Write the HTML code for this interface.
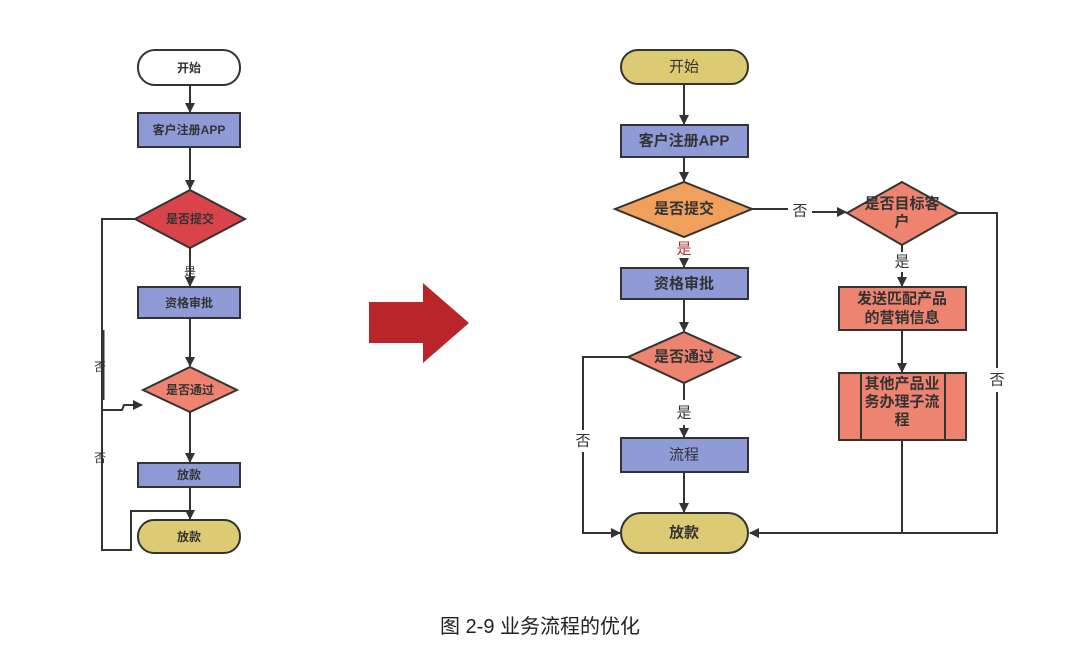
<!DOCTYPE html>
<html><head><meta charset="utf-8"><style>
html,body{margin:0;padding:0;background:#fff;width:1080px;height:664px;overflow:hidden}
svg{display:block}
text{font-family:"Liberation Sans","Noto Sans CJK SC",sans-serif;text-anchor:middle;dominant-baseline:central}
</style></head><body>
<svg width="1080" height="664" viewBox="0 0 1080 664">
<defs><marker id="a" markerWidth="10" markerHeight="10" refX="9" refY="5" orient="auto" markerUnits="userSpaceOnUse"><path d="M0,0 L10,5 L0,10 z" fill="#333"/></marker></defs>
<g stroke="#333" stroke-width="2" fill="none">
<!-- left -->
<line x1="190" y1="85" x2="190" y2="112" marker-end="url(#a)"/>
<line x1="190" y1="147" x2="190" y2="189" marker-end="url(#a)"/>
<line x1="190" y1="248" x2="190" y2="286" marker-end="url(#a)"/>
<line x1="190" y1="318" x2="190" y2="366" marker-end="url(#a)"/>
<line x1="190" y1="412" x2="190" y2="462" marker-end="url(#a)"/>
<line x1="190" y1="487" x2="190" y2="519" marker-end="url(#a)"/>
<polyline points="135,219 102,219 102,550 131,550 131,511 190,511"/>
<polyline points="102,410 122,410 124,405 142,405" marker-end="url(#a)"/>
<line x1="103" y1="330" x2="103" y2="400" stroke-width="3"/>
<!-- right -->
<line x1="684" y1="84" x2="684" y2="124" marker-end="url(#a)"/>
<line x1="684" y1="157" x2="684" y2="181" marker-end="url(#a)"/>
<line x1="684" y1="258" x2="684" y2="267" marker-end="url(#a)"/>
<line x1="684" y1="299" x2="684" y2="331" marker-end="url(#a)"/>
<line x1="684" y1="383" x2="684" y2="400"/>
<line x1="684" y1="425" x2="684" y2="437" marker-end="url(#a)"/>
<line x1="684" y1="472" x2="684" y2="512" marker-end="url(#a)"/>
<line x1="752" y1="209" x2="788" y2="209"/>
<line x1="812" y1="212" x2="846" y2="212" marker-end="url(#a)"/>
<line x1="902" y1="245" x2="902" y2="252"/>
<line x1="902" y1="272" x2="902" y2="286" marker-end="url(#a)"/>
<line x1="902" y1="330" x2="902" y2="372" marker-end="url(#a)"/>
<polyline points="628,357 583,357 583,430"/>
<polyline points="583,452 583,533 620,533" marker-end="url(#a)"/>
<polyline points="958,213 997,213 997,368"/>
<polyline points="997,392 997,533 750,533" marker-end="url(#a)"/>
<line x1="902" y1="440" x2="902" y2="533"/>
</g>
<g stroke="#333" stroke-width="2">
<rect x="138" y="50" width="102" height="35" rx="17" fill="#fff"/>
<rect x="138" y="113" width="102" height="34" fill="#8f9bd6"/>
<polygon points="135,219 190,190 245,219 190,248" fill="#d9444a"/>
<rect x="138" y="287" width="102" height="31" fill="#8f9bd6"/>
<polygon points="143,390 190,367 237,390 190,412" fill="#ee8470"/>
<rect x="138" y="463" width="102" height="24" fill="#8f9bd6"/>
<rect x="138" y="520" width="102" height="33" rx="16" fill="#dccb72"/>
<rect x="621" y="50" width="127" height="34" rx="17" fill="#dccb72"/>
<rect x="621" y="125" width="127" height="32" fill="#8f9bd6"/>
<polygon points="615,209 684,182 752,209 684,237" fill="#f0a05a"/>
<rect x="621" y="268" width="127" height="31" fill="#8f9bd6"/>
<polygon points="628,357 684,332 740,357 684,383" fill="#ee8470"/>
<rect x="621" y="438" width="127" height="34" fill="#8f9bd6"/>
<rect x="621" y="513" width="127" height="40" rx="20" fill="#dccb72"/>
<polygon points="847,213 902,182 958,213 902,245" fill="#ee8470"/>
<rect x="839" y="287" width="127" height="43" fill="#ee8470"/>
<rect x="839" y="373" width="127" height="67" fill="#ee8470"/>
<line x1="861" y1="373" x2="861" y2="440"/>
<line x1="945" y1="373" x2="945" y2="440"/>
</g>
<polygon points="369,302 423,302 423,283 469,323 423,363 423,343 369,343" fill="#b8262c"/>
<g font-size="12" font-weight="bold" fill="#333">
<text x="189" y="68">开始</text>
<text x="189" y="130">客户注册APP</text>
<text x="190" y="219">是否提交</text>
<text x="189" y="303">资格审批</text>
<text x="190" y="390">是否通过</text>
<text x="189" y="475">放款</text>
<text x="189" y="537">放款</text>
</g>
<g font-size="12" fill="#333">
<text x="190" y="272">是</text>
<text x="100" y="367">否</text>
<text x="100" y="458">否</text>
</g>
<g font-size="15" fill="#333">
<text x="684" y="67">开始</text>
<text x="684" y="141" font-weight="bold">客户注册APP</text>
<text x="684" y="209" font-weight="bold">是否提交</text>
<text x="684" y="249" fill="#b03030">是</text>
<text x="684" y="284" font-weight="bold">资格审批</text>
<text x="684" y="357" font-weight="bold">是否通过</text>
<text x="684" y="413">是</text>
<text x="684" y="455">流程</text>
<text x="684" y="533" font-weight="bold">放款</text>
<text x="800" y="211">否</text>
<text x="902" y="204" font-weight="bold">是否目标客</text>
<text x="902" y="222" font-weight="bold">户</text>
<text x="902" y="262">是</text>
<text x="902" y="299" font-weight="bold">发送匹配产品</text>
<text x="902" y="318" font-weight="bold">的营销信息</text>
<text x="902" y="384" font-weight="bold">其他产品业</text>
<text x="902" y="402" font-weight="bold">务办理子流</text>
<text x="902" y="420" font-weight="bold">程</text>
<text x="997" y="380">否</text>
<text x="583" y="441">否</text>
</g>
<text x="540" y="627" font-size="20" fill="#222">图 2-9 业务流程的优化</text>
</svg>
</body></html>
